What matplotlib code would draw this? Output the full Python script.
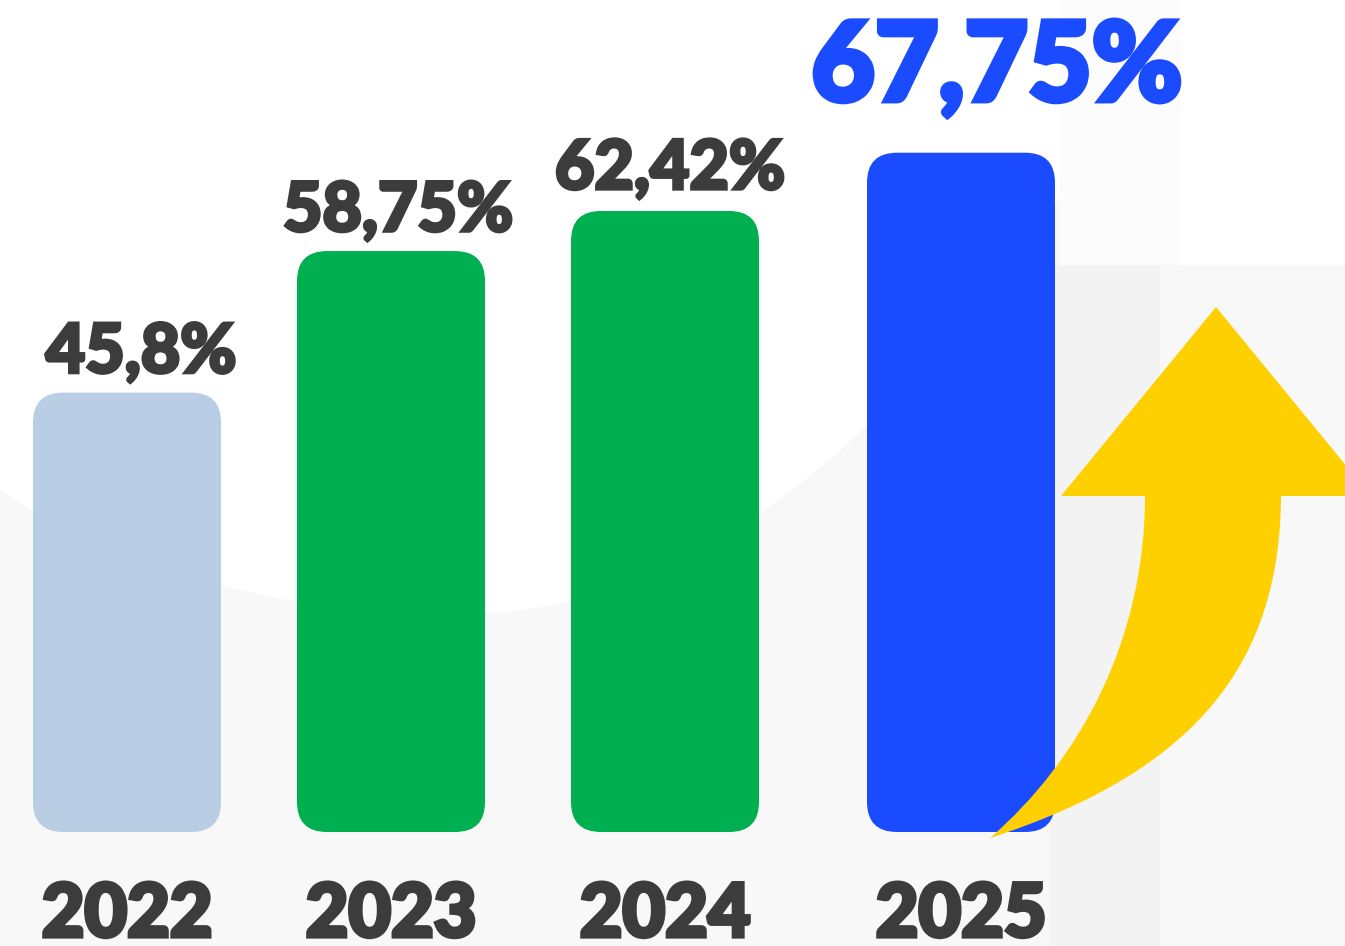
import matplotlib
matplotlib.use("Agg")
import matplotlib.pyplot as plt
import matplotlib.transforms as mtransforms
import matplotlib.patheffects as pe
from matplotlib.patches import FancyBboxPatch, PathPatch, Rectangle
from matplotlib.path import Path

# Chart data
years = ["2022", "2023", "2024", "2025"]
values = [45.8, 58.75, 62.42, 67.75]
value_labels = ["45,8%", "58,75%", "62,42%", "67,75%"]
bar_colors = ["#B9CDE5", "#00AF50", "#00AF50", "#1A4BFF"]
label_colors = ["#3C3C3C", "#3C3C3C", "#3C3C3C", "#1A4BFF"]

# Layout (pixels on a 1345 x 946 canvas)
W, H = 1345, 946
BAR_X = [127, 391, 665, 961]
BAR_W = 188
LABEL_DX = [14, 7, 5, 36]
LABEL_GAP = [20, 20, 22, 52]   # px between bar top and label baseline
LABEL_SIZE = [49, 49, 49, 79]
BASE = 5.6        # value at the bars' floor
PX_PER_UNIT = 10.93
FLOOR_PX = 832    # floor, px from top
TEXT = "#3C3C3C"
FONT = ["Lato", "DejaVu Sans"]

fig = plt.figure(figsize=(W / 100, H / 100), dpi=100)
ax = fig.add_axes([0, 0, 1, 1])
ax.set_xlim(0, W)
ax.set_ylim(BASE - (H - FLOOR_PX) / PX_PER_UNIT, BASE + FLOOR_PX / PX_PER_UNIT)
ax.axis("off")

# transform for decorations: pixel coords measured from the top-left
px = mtransforms.Affine2D().scale(1 / W, -1 / H).translate(0, 1) + fig.transFigure

# soft grey background below a wide curve
bg = Path(
    [(0, 490), (130, 580), (350, 630), (520, 610),
     (800, 580), (1050, 250), (1176, 0),
     (1180, 0), (1180, 265), (W, 265), (W, H), (0, H), (0, 490)],
    [Path.MOVETO, Path.CURVE4, Path.CURVE4, Path.CURVE4,
     Path.CURVE4, Path.CURVE4, Path.CURVE4,
     Path.LINETO, Path.LINETO, Path.LINETO, Path.LINETO, Path.LINETO, Path.CLOSEPOLY])
ax.add_patch(PathPatch(bg, facecolor="#F8F8F8", edgecolor="none", transform=px, zorder=0))
ax.add_patch(Rectangle((1060, 0), 120, 265, facecolor="#FCFCFC", edgecolor="none",
                       transform=px, zorder=0.4))
ax.add_patch(Rectangle((1050, 265), 110, H - 265, facecolor="#F3F3F3", edgecolor="none",
                       transform=px, zorder=0.5))

# bars with rounded corners
for x, v, c in zip(BAR_X, values, bar_colors):
    ax.add_patch(FancyBboxPatch((x - BAR_W / 2, BASE), BAR_W, v - BASE,
                                boxstyle="round,pad=0,rounding_size=30",
                                mutation_aspect=1 / PX_PER_UNIT,
                                facecolor=c, edgecolor="none", zorder=2))

# value labels above the bars (stroke makes the bold face heavier)
for x, v, lab, col, dx, gap, fs in zip(BAR_X, values, value_labels, label_colors,
                                       LABEL_DX, LABEL_GAP, LABEL_SIZE):
    t = ax.annotate(lab, (x, v), xytext=(dx * 0.72, gap * 0.72), textcoords="offset points",
                    ha="center", va="baseline", fontsize=fs, fontweight="black",
                    color=col, family=FONT, zorder=4)
    t.set_path_effects([pe.Stroke(linewidth=fs / 20, foreground=col, joinstyle="miter"),
                        pe.Normal()])

# year labels at the bottom
for x, yr in zip(BAR_X, years):
    t = ax.text(x, 0.01, yr, transform=ax.get_xaxis_transform(), ha="center", va="baseline",
                fontsize=53, fontweight="black", color=TEXT, family=FONT, zorder=4)
    t.set_path_effects([pe.Stroke(linewidth=3, foreground=TEXT, joinstyle="miter"),
                        pe.Normal()])

# yellow growth arrow
arrow = Path(
    [(990, 838), (1200, 770), (1280, 660), (1281, 496),
     (1371, 496), (1216, 307), (1061, 496), (1145, 496),
     (1145, 640), (1080, 760), (990, 838), (990, 838)],
    [Path.MOVETO, Path.CURVE4, Path.CURVE4, Path.CURVE4,
     Path.LINETO, Path.LINETO, Path.LINETO, Path.LINETO,
     Path.CURVE4, Path.CURVE4, Path.CURVE4, Path.CLOSEPOLY])
ax.add_patch(PathPatch(arrow, facecolor="#FFD000", edgecolor="none", transform=px, zorder=3))

fig.savefig("out.png", dpi=100, facecolor="white")
